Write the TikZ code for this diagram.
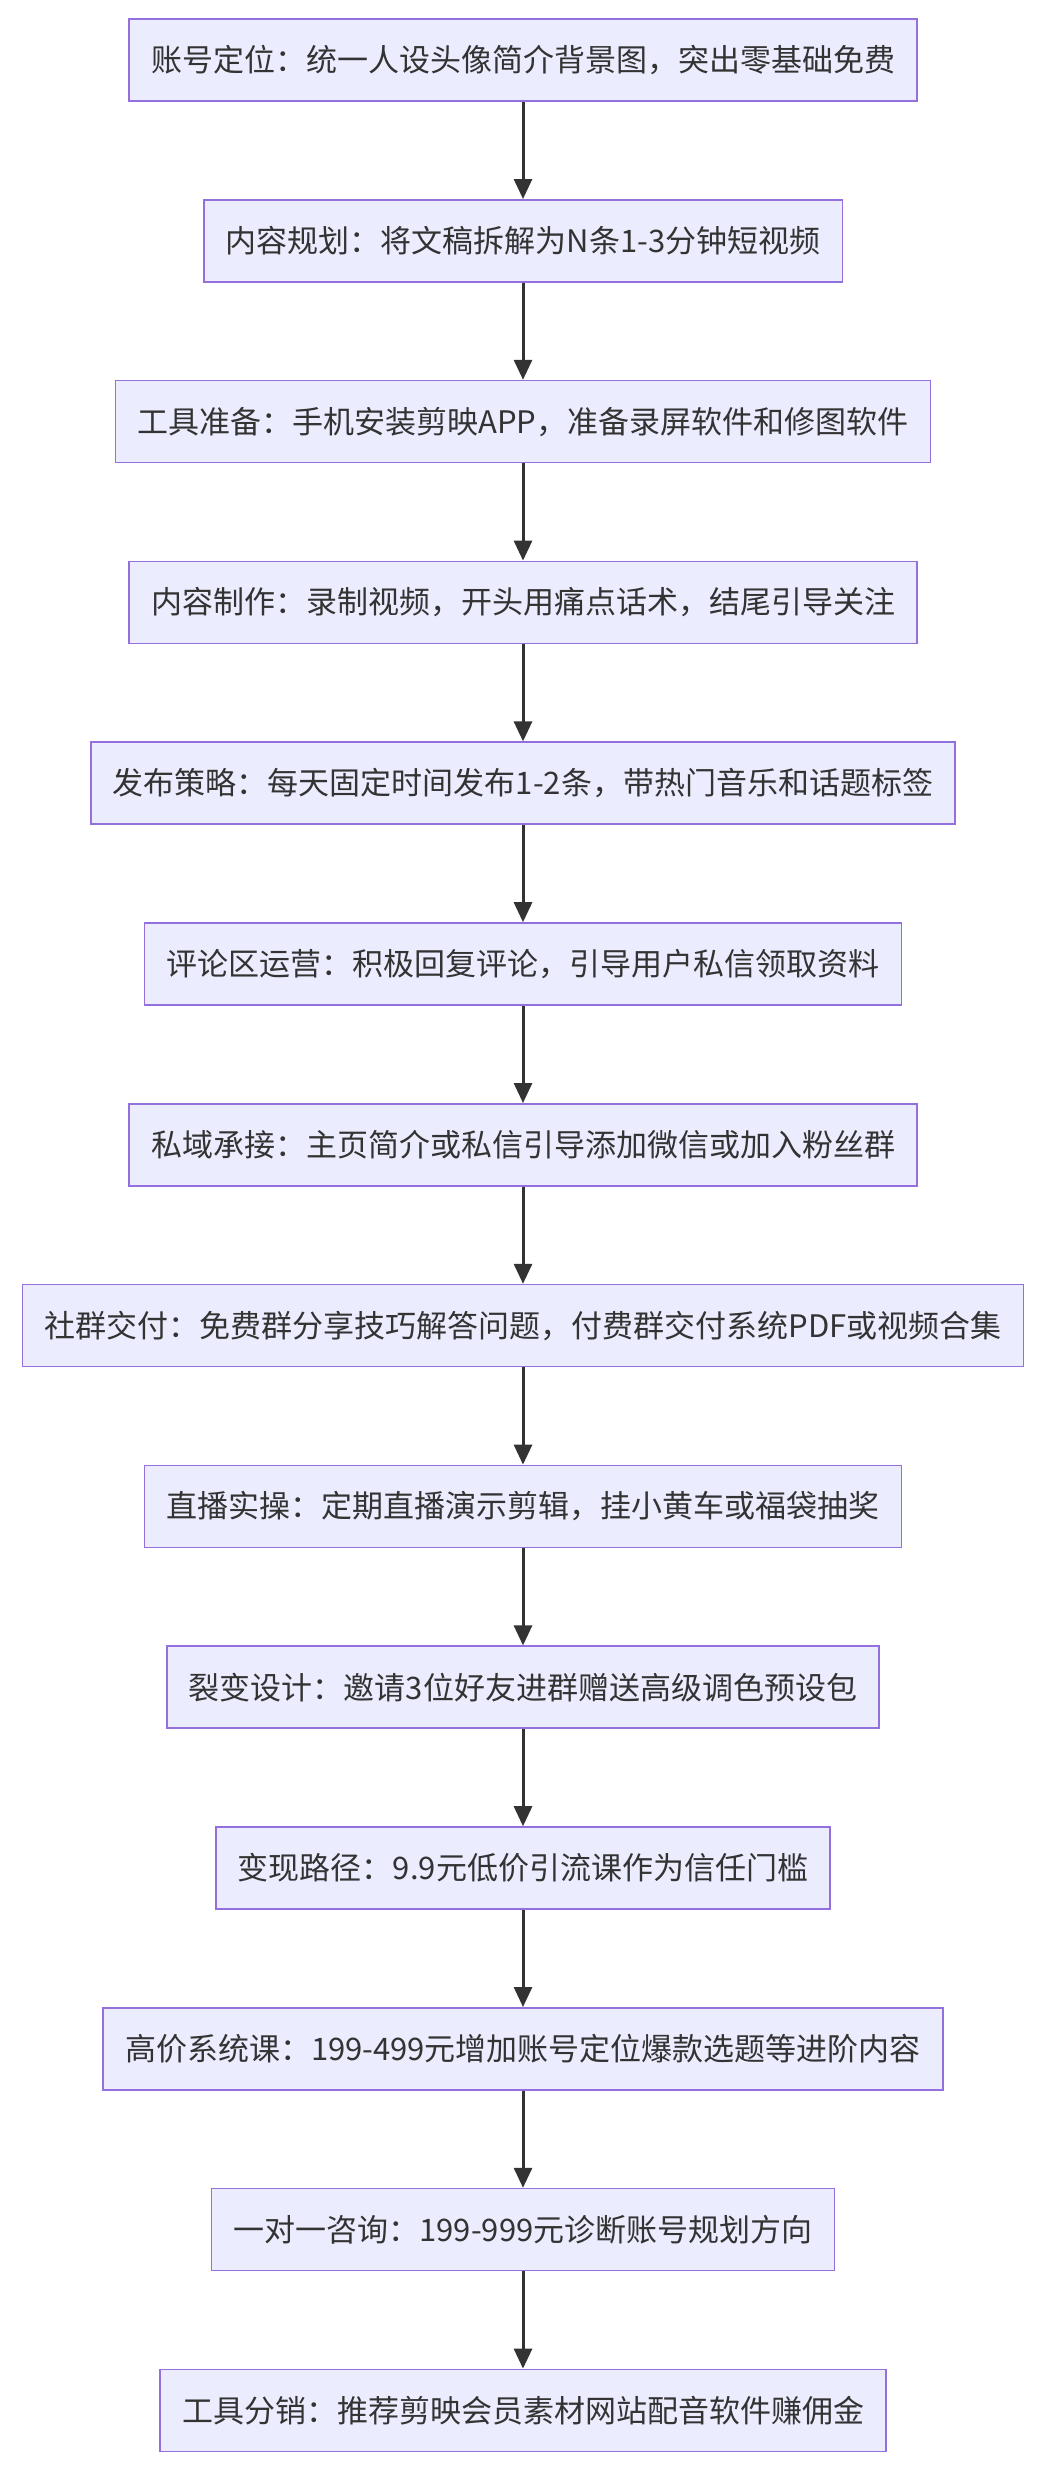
\documentclass[tikz,border=0pt]{standalone}
\usepackage{fontspec}
\setmainfont{Noto Sans CJK SC}
\usetikzlibrary{arrows.meta}
\definecolor{boxfill}{HTML}{ECECFF}
\definecolor{boxline}{HTML}{9370DB}
\definecolor{arr}{HTML}{333333}
\tikzset{stepbox/.style={draw=boxline,fill=boxfill,line width=1.6pt,minimum height=82pt,inner xsep=22pt,font=\fontsize{31}{35}\selectfont,text=arr},
conn/.style={draw=arr,line width=3pt,-{Triangle[length=20pt,width=18pt]}}}
\begin{document}
\begin{tikzpicture}[x=1pt,y=-1pt]
\useasboundingbox (0,0) rectangle (1048,2470);
\foreach \t [count=\i] in {
账号定位：统一人设头像简介背景图，突出零基础免费,
内容规划：将文稿拆解为N条1-3分钟短视频,
工具准备：手机安装剪映APP，准备录屏软件和修图软件,
内容制作：录制视频，开头用痛点话术，结尾引导关注,
发布策略：每天固定时间发布1-2条，带热门音乐和话题标签,
评论区运营：积极回复评论，引导用户私信领取资料,
私域承接：主页简介或私信引导添加微信或加入粉丝群,
社群交付：免费群分享技巧解答问题，付费群交付系统PDF或视频合集,
直播实操：定期直播演示剪辑，挂小黄车或福袋抽奖,
裂变设计：邀请3位好友进群赠送高级调色预设包,
变现路径：9.9元低价引流课作为信任门槛,
高价系统课：199-499元增加账号定位爆款选题等进阶内容,
一对一咨询：199-999元诊断账号规划方向,
工具分销：推荐剪映会员素材网站配音软件赚佣金}
{\node[stepbox] (n\i) at (523,{60+(\i-1)*180.8}) {\t};}
\foreach \i [remember=\i as \j (initially 1)] in {2,...,14}
{\draw[conn] (n\j) -- (n\i);}
\end{tikzpicture}
\end{document}
